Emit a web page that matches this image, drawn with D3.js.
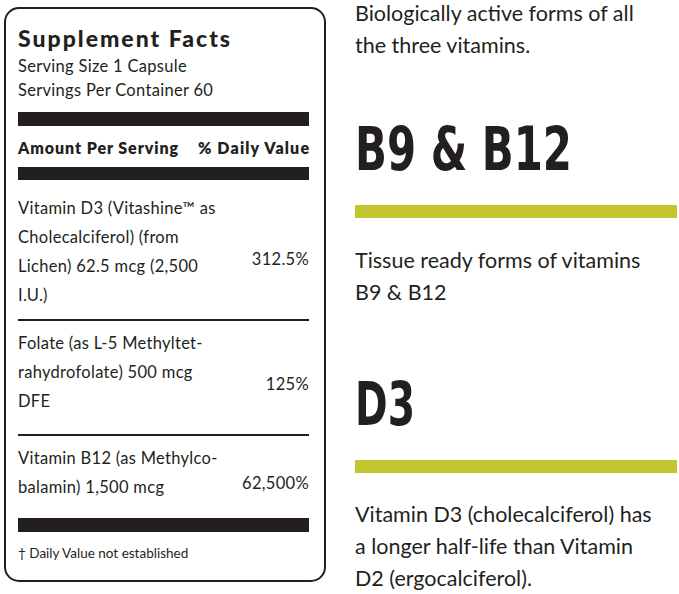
<!DOCTYPE html>
<html><head><meta charset="utf-8">
<script src="https://cdn.jsdelivr.net/npm/d3@7"></script>
<style>body{margin:0;background:#fff}text{fill:#231f20}</style>
</head><body><svg id="c" width="679" height="594"></svg>
<script>
const servingLines = ['Serving Size 1 Capsule', 'Servings Per Container 60'];
const nutrientRows = [
  { lines: ['Vitamin D3 (Vitashine™ as', 'Cholecalciferol) (from', 'Lichen) 62.5 mcg (2,500', 'I.U.)'], dv: '312.5%' },
  { lines: ['Folate (as L-5 Methyltet-', 'rahydrofolate) 500 mcg', 'DFE'], dv: '125%' },
  { lines: ['Vitamin B12 (as Methylco-', 'balamin) 1,500 mcg'], dv: '62,500%' }
];
const rowTops = [185, 320, 435, 518];
const sideBlocks = [
  { head: null, barY: null, textY: 21, lines: ['Biologically active forms of all', 'the three vitamins.'] },
  { head: 'B9 & B12', headY: 170, headW: 217, barY: 205, textY: 268, lines: ['Tissue ready forms of vitamins', 'B9 & B12'] },
  { head: 'D3', headY: 425, headW: 60, barY: 460, textY: 522, lines: ['Vitamin D3 (cholecalciferol) has', 'a longer half-life than Vitamin', 'D2 (ergocalciferol).'] }
];

const svg = d3.select('#c');
const font = 'Lato, "Open Sans", sans-serif';

// label panel
svg.append('rect').attr('x', 5).attr('y', 8).attr('width', 320).attr('height', 573)
  .attr('rx', 14).attr('fill', 'none').attr('stroke', '#231f20').attr('stroke-width', 2);

svg.append('text').attr('x', 18).attr('y', 47).attr('font-family', font)
  .attr('font-weight', 900).attr('font-size', 23).attr('textLength', 212).text('Supplement Facts');
svg.selectAll('.srv').data(servingLines).join('text')
  .attr('x', 18).attr('y', (d, i) => 72 + i * 24).attr('font-family', font)
  .attr('font-size', 16.5).attr('letter-spacing', 0.3).text(d => d);

const bar = (y, h) => svg.append('rect').attr('x', 18).attr('y', y).attr('width', 291).attr('height', h).attr('fill', '#231f20');
bar(112, 14);
svg.append('text').attr('x', 18).attr('y', 154).attr('font-family', font).attr('font-weight', 800)
  .attr('font-size', 16).attr('textLength', 160).text('Amount Per Serving');
svg.append('text').attr('x', 198).attr('y', 154).attr('font-family', font)
  .attr('font-weight', 800).attr('font-size', 16).attr('textLength', 111).text('% Daily Value');
bar(167, 13);

nutrientRows.forEach((r, i) => {
  const top = rowTops[i], bottom = rowTops[i + 1];
  r.lines.forEach((l, j) => svg.append('text').attr('x', 18).attr('y', top + 29 + j * 29)
    .attr('font-family', font).attr('font-size', 16.5).attr('letter-spacing', 0.3).text(l));
  svg.append('text').attr('x', 309).attr('y', (top + bottom) / 2 + 12).attr('text-anchor', 'end')
    .attr('font-family', font).attr('font-size', 16.5).attr('letter-spacing', 0.3).text(r.dv);
  if (i < nutrientRows.length - 1) svg.append('rect').attr('x', 18).attr('y', bottom - 1).attr('width', 291).attr('height', 2).attr('fill', '#231f20');
});
bar(518, 14);
svg.append('text').attr('x', 18).attr('y', 558).attr('font-family', font).attr('font-size', 13.5).text('† Daily Value not established');

// right column
sideBlocks.forEach(b => {
  if (b.head) svg.append('text').attr('x', 355).attr('y', b.headY)
    .attr('font-family', '"DejaVu Sans", sans-serif')
    .attr('font-weight', 700).attr('font-size', 60)
    .attr('textLength', b.headW).attr('lengthAdjust', 'spacingAndGlyphs').text(b.head);
  if (b.barY) svg.append('rect').attr('x', 355).attr('y', b.barY).attr('width', 322).attr('height', 13).attr('fill', '#c3c530');
  b.lines.forEach((l, j) => svg.append('text').attr('x', 355).attr('y', b.textY + j * 32)
    .attr('font-family', font).attr('font-size', 21.5).text(l));
});
</script></body></html>
